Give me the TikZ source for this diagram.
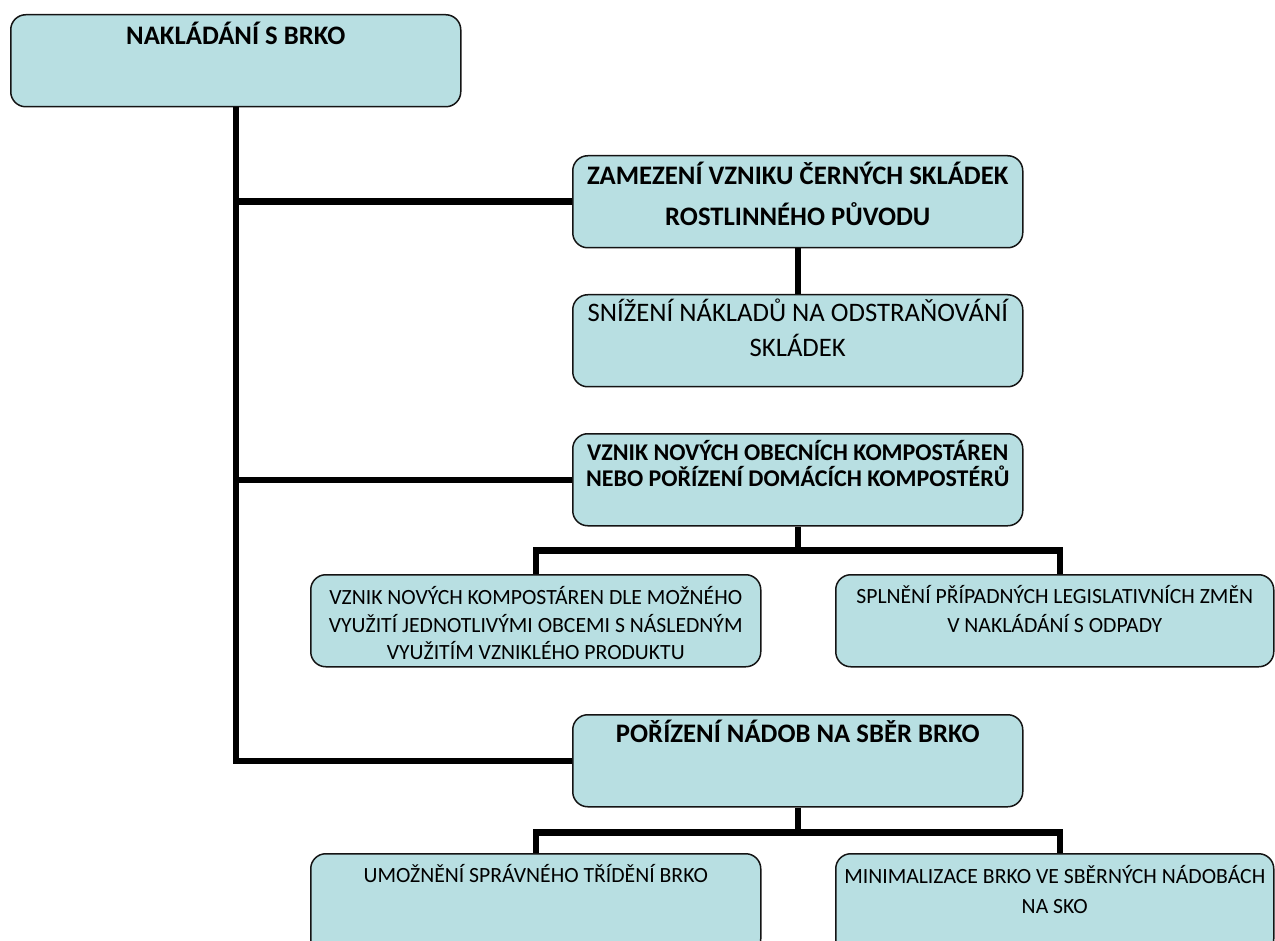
\documentclass[tikz,border=0pt]{standalone}
\usepackage{fontspec}
\setmainfont{Carlito}
\usetikzlibrary{calc}
\definecolor{boxfill}{RGB}{184,223,226}
\definecolor{boxline}{RGB}{20,20,20}
\tikzset{
  orgbox/.style={draw=boxline, line width=1.5pt, fill=boxfill, rounded corners=15pt,
    minimum width=450pt, minimum height=92pt, anchor=north west, inner sep=0pt},
  wire/.style={line width=6.5pt, draw=black},
  bigb/.style={anchor=base, inner sep=0pt, font=\fontsize{26.7pt}{30pt}\selectfont\bfseries},
  bigr/.style={anchor=base, inner sep=0pt, font=\fontsize{26.7pt}{30pt}\selectfont},
  midb/.style={anchor=base, inner sep=0pt, font=\fontsize{24pt}{27pt}\selectfont\bfseries},
  smallr/.style={anchor=base, inner sep=0pt, font=\fontsize{21.7pt}{25pt}\selectfont},
}
\begin{document}
\begin{tikzpicture}[x=1pt,y=-1pt]
\useasboundingbox (0,0) rectangle (1275,941);
\begin{scope}
\clip (0,0) rectangle (1275,941);
\node[orgbox] (b1) at (10,14) {};
\node[orgbox] (b2) at (572,155) {};
\node[orgbox] (b3) at (572,294) {};
\node[orgbox] (b4) at (572,433) {};
\node[orgbox] (b5) at (310,574) {};
\node[orgbox, minimum width=438pt] (b6) at (835,574) {};
\node[orgbox] (b7) at (572,714) {};
\node[orgbox, minimum height=100pt] (b8) at (310,853) {};
\node[orgbox, minimum width=438pt, minimum height=100pt] (b9) at (835,853) {};

\coordinate (j4) at ($(b4.south)+(0,24)$);
\coordinate (j7) at ($(b7.south)+(0,25)$);
\coordinate (c6) at ($(b6.north)+(5,0)$);
\coordinate (c9) at ($(b9.north)+(5,0)$);

\draw[wire] (b1.south) |- (b7.west);
\draw[wire] (b1.south |- b2.west) -- (b2.west);
\draw[wire] (b1.south |- b4.west) -- (b4.west);
\draw[wire] (b2.south) -- (b3.north);
\draw[wire] (b4.south) -- (j4);
\draw[wire] (b5.north) |- (j4) -| (c6);
\draw[wire] (b7.south) -- (j7);
\draw[wire] (b8.north) |- (j7) -| (c9);

\node[bigb] (t1) at ($(b1.north)+(0,31)$) {NAKLÁDÁNÍ S BRKO};
\node[bigb] (t2a) at ($(b2.north)+(0,30)$) {ZAMEZENÍ VZNIKU ČERNÝCH SKLÁDEK};
\node[bigb] (t2b) at ($(b2.north)+(0,71)$) {ROSTLINNÉHO PŮVODU};
\node[bigr] (t3a) at ($(b3.north)+(0,28)$) {SNÍŽENÍ NÁKLADŮ NA ODSTRAŇOVÁNÍ};
\node[bigr] (t3b) at ($(b3.north)+(0,63)$) {SKLÁDEK};
\node[midb] (t4a) at ($(b4.north)+(0,27)$) {VZNIK NOVÝCH OBECNÍCH KOMPOSTÁREN};
\node[midb] (t4b) at ($(b4.north)+(0,53)$) {NEBO POŘÍZENÍ DOMÁCÍCH KOMPOSTÉRŮ};
\node[smallr] (t5a) at ($(b5.north)+(0,30)$) {VZNIK NOVÝCH KOMPOSTÁREN DLE MOŽNÉHO};
\node[smallr] (t5b) at ($(b5.north)+(0,58)$) {VYUŽITÍ JEDNOTLIVÝMI OBCEMI S NÁSLEDNÝM};
\node[smallr] (t5c) at ($(b5.north)+(0,85)$) {VYUŽITÍM VZNIKLÉHO PRODUKTU};
\node[smallr] (t6a) at ($(b6.north)+(0,29)$) {SPLNĚNÍ PŘÍPADNÝCH LEGISLATIVNÍCH ZMĚN};
\node[smallr] (t6b) at ($(b6.north)+(0,58)$) {V NAKLÁDÁNÍ S ODPADY};
\node[bigb] (t7) at ($(b7.north)+(0,28)$) {POŘÍZENÍ NÁDOB NA SBĚR BRKO};
\node[smallr] (t8) at ($(b8.north)+(0,29)$) {UMOŽNĚNÍ SPRÁVNÉHO TŘÍDĚNÍ BRKO};
\node[smallr] (t9a) at ($(b9.north)+(0,30)$) {MINIMALIZACE BRKO VE SBĚRNÝCH NÁDOBÁCH};
\node[smallr] (t9b) at ($(b9.north)+(0,60)$) {NA SKO};
\end{scope}
\end{tikzpicture}
\end{document}
